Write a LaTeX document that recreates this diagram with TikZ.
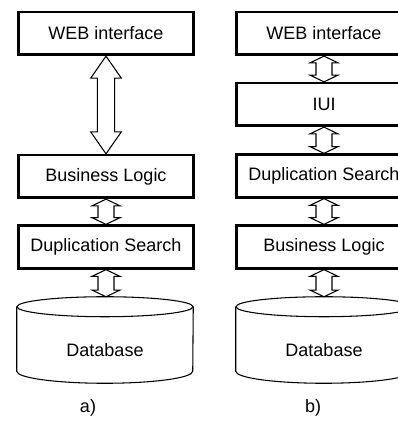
\documentclass[tikz,border=0pt]{standalone}
\usepackage{fontspec}
\setmainfont{Liberation Sans}
\usetikzlibrary{calc}
\newcommand{\fignodefont}{\fontsize{13.5}{16}\selectfont}
% hollow two-headed arrow from the bottom of #1 to the top of #2
% #3 half shaft width, #4 half head width, #5 head length
\newcommand{\duplexarrow}[5]{%
  \draw[linkline] let \p1=(#1.south), \p2=(#2.north) in
    (\x1-#3,\y1-#5) -- (\x1-#4,\y1-#5) -- (\x1,\y1) -- (\x1+#4,\y1-#5) -- (\x1+#3,\y1-#5)
    -- (\x1+#3,\y2+#5) -- (\x1+#4,\y2+#5) -- (\x1,\y2) -- (\x1-#4,\y2+#5) -- (\x1-#3,\y2+#5) -- cycle;}
% cylinder outline round node #1
\newcommand{\drum}[1]{%
  \draw[linkline] ([yshift=-7.5pt]#1.north) ellipse [x radius=66pt, y radius=7.5pt];
  \draw[linkline] ([yshift=-7.5pt]#1.north west) -- ([yshift=9pt]#1.south west)
    arc[start angle=180, end angle=360, x radius=66pt, y radius=9pt]
    -- ([yshift=-7.5pt]#1.north east);}
\begin{document}
\begin{tikzpicture}[x=0.75pt, y=0.75pt, every node/.style={font=\fignodefont},
  layer/.style={draw, line width=2pt, minimum width=131pt, minimum height=32pt, inner sep=0pt},
  dbbox/.style={minimum width=132pt, minimum height=64.5pt, inner sep=0pt},
  linkline/.style={line width=0.8pt, line join=miter}]
\clip (0,0) rectangle (398,-427);
% Data: {node name, text, centre y}
% a) left stack
\foreach \name/\txt/\y in {lweb/WEB interface/33.5, lbl/Business Logic/176.5, lds/Duplication Search/247}
  \node[layer] (\name) at (106,-\y) {\txt};
\node[dbbox, label={[name=ldbtext, yshift=-7.5pt]center:Database}] (ldb) at (105,-340) {};
\drum{ldb}
\duplexarrow{lweb}{lbl}{6.5pt}{11.5pt}{16.5pt}
\duplexarrow{lbl}{lds}{6pt}{10.5pt}{5pt}
\duplexarrow{lds}{ldb}{6pt}{10.5pt}{5pt}
\node (capa) at (88,-408) {a)};
% b) right stack
\foreach \name/\txt/\y in {rweb/WEB interface/33.5, riui/IUI/104.5, rds/Duplication Search/176, rbl/Business Logic/247}
  \node[layer] (\name) at (324,-\y) {\txt};
\node[dbbox, label={[name=rdbtext, yshift=-7.5pt]center:Database}] (rdb) at (324,-340) {};
\drum{rdb}
\duplexarrow{rweb}{riui}{6pt}{10.5pt}{5pt}
\duplexarrow{riui}{rds}{6pt}{10.5pt}{5pt}
\duplexarrow{rds}{rbl}{6pt}{10.5pt}{5pt}
\duplexarrow{rbl}{rdb}{6pt}{10.5pt}{5pt}
\node (capb) at (313,-408) {b)};
\end{tikzpicture}
\end{document}
